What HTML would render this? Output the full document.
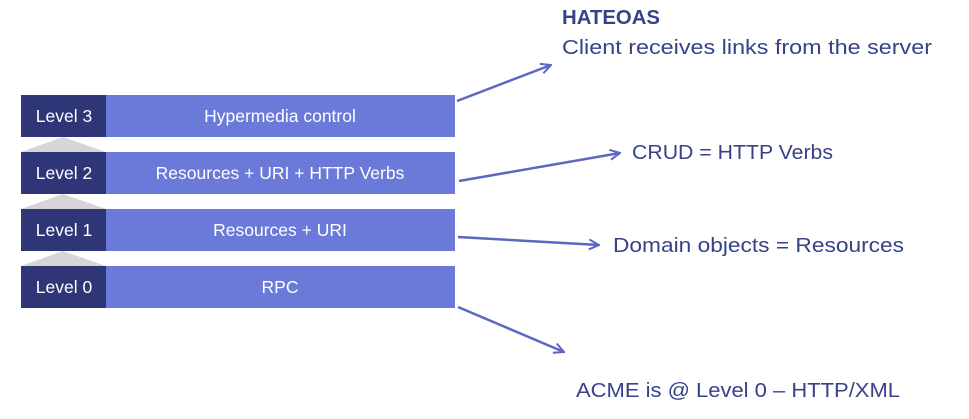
<!DOCTYPE html>
<html><head><meta charset="utf-8"><style>
html,body{margin:0;padding:0;background:#fff;width:969px;height:419px;overflow:hidden}
text{font-family:"Liberation Sans",sans-serif}
</style></head><body>
<svg width="969" height="419" viewBox="0 0 969 419" xmlns="http://www.w3.org/2000/svg">
<defs><marker id="a" viewBox="0 0 12 12" refX="11" refY="6" markerWidth="12" markerHeight="12" markerUnits="userSpaceOnUse" orient="auto"><path d="M1,1 L11,6 L1,11" fill="none" stroke="#5b67c0" stroke-width="2"/></marker></defs>
<g fill="#d6d6d6">
<polygon points="21,152 106,152 63,137"/>
<polygon points="21,209 106,209 63,194"/>
<polygon points="21,266 106,266 63,251"/>
</g>
<g>
<rect x="21" y="95" width="434" height="42" fill="#6b79d8"/><rect x="21" y="95" width="85" height="42" fill="#2f3677"/>
<rect x="21" y="152" width="434" height="42" fill="#6b79d8"/><rect x="21" y="152" width="85" height="42" fill="#2f3677"/>
<rect x="21" y="209" width="434" height="42" fill="#6b79d8"/><rect x="21" y="209" width="85" height="42" fill="#2f3677"/>
<rect x="21" y="266" width="434" height="42" fill="#6b79d8"/><rect x="21" y="266" width="85" height="42" fill="#2f3677"/>
</g>
<g fill="#fff" font-size="17.5" text-anchor="middle">
<text x="64" y="122">Level 3</text><text x="280" y="122">Hypermedia control</text>
<text x="64" y="179">Level 2</text><text x="280" y="179">Resources + URI + HTTP Verbs</text>
<text x="64" y="236">Level 1</text><text x="280" y="236">Resources + URI</text>
<text x="64" y="293">Level 0</text><text x="280" y="293">RPC</text>
</g>
<g stroke="#5b67c0" stroke-width="2.5" fill="none" marker-end="url(#a)">
<line x1="457" y1="101" x2="551" y2="65"/>
<line x1="459" y1="181" x2="620" y2="153"/>
<line x1="458" y1="237" x2="599" y2="245"/>
<line x1="458" y1="307" x2="564" y2="352"/>
</g>
<g fill="#364389" font-size="20">
<text x="562" y="24" font-weight="bold" textLength="98" lengthAdjust="spacingAndGlyphs">HATEOAS</text>
<text x="562" y="54" textLength="370" lengthAdjust="spacingAndGlyphs">Client receives links from the server</text>
<text x="632" y="159" textLength="201" lengthAdjust="spacingAndGlyphs">CRUD = HTTP Verbs</text>
<text x="613" y="252" textLength="291" lengthAdjust="spacingAndGlyphs">Domain objects = Resources</text>
<text x="576" y="397" textLength="324" lengthAdjust="spacingAndGlyphs">ACME is @ Level 0 – HTTP/XML</text>
</g>
</svg>
</body></html>
